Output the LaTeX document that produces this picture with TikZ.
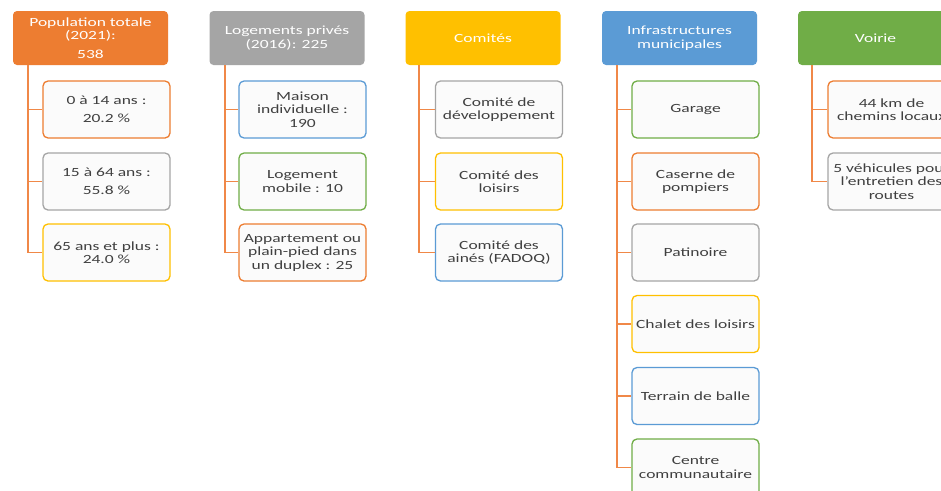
\documentclass[tikz,border=0pt]{standalone}
\usepackage{fontspec}
\setmainfont{Carlito}[FakeStretch=1.4]
\usetikzlibrary{calc}
\definecolor{corange}{HTML}{ED7D31}
\definecolor{cgray}{HTML}{A5A5A5}
\definecolor{cgold}{HTML}{FFC000}
\definecolor{cblue}{HTML}{5B9BD5}
\definecolor{cgreen}{HTML}{70AD47}
\definecolor{cline}{HTML}{F08848}
\definecolor{ctext}{HTML}{404040}
\definecolor{cfill}{HTML}{FBFBFB}
\tikzset{
  head/.style={rounded corners=4pt, minimum width=155pt, minimum height=54pt, inner sep=0pt,
    align=center, text=white, font=\fontsize{12.5}{13.5}\selectfont},
  child/.style={rounded corners=5pt, draw=#1, line width=1.3pt, fill=cfill, minimum width=127pt,
    minimum height=57pt, inner sep=0pt, align=center, text=ctext, font=\fontsize{12.5}{13.5}\selectfont},
  conn/.style={draw=cline, line width=1.8pt}
}
\begin{document}
\begin{tikzpicture}[x=1pt,y=-1pt]
\useasboundingbox (0,0) rectangle (941,490);
\clip (0,0) rectangle (941,490);
\fill[white] (0,0) rectangle (941,490);
% headers
\node[head, fill=corange] (pop) at (90.5,38) {Population totale\\(2021):\\[5pt]538};
\node[head, fill=cgray] (log) at (287,38) {Logements privés\\(2016): 225};
\node[head, fill=cgold] (com) at (483,38) {Comités};
\node[head, fill=cblue] (inf) at (679.5,38) {Infrastructures\\municipales};
\node[head, fill=cgreen] (voi) at (875.5,38) {Voirie};
% rows
\def\ya{109.5}\def\yb{181.5}\def\yc{252.5}\def\yd{324}\def\ye{396}\def\yf{467.5}
% population
\node[child=corange] (p1) at (106.5,\ya) {0 à 14 ans :\\[4pt]20.2 \%};
\node[child=cgray] (p2) at (106.5,\yb) {15 à 64 ans :\\[4pt]55.8 \%};
\node[child=cgold] (p3) at (106.5,\yc) {65 ans et plus :\\24.0 \%};
% logements
\node[child=cblue] (l1) at (302.5,\ya) {Maison\\individuelle :\\190};
\node[child=cgreen] (l2) at (302.5,\yb) {Logement\\mobile : 10};
\node[child=corange] (l3) at (302.5,\yc) {Appartement ou\\plain-pied dans\\un duplex : 25};
% comites
\node[child=cgray] (c1) at (499,\ya) {Comité de\\développement};
\node[child=cgold] (c2) at (499,\yb) {Comité des\\loisirs};
\node[child=cblue] (c3) at (499,\yc) {Comité des\\ainés (FADOQ)};
% infrastructures
\node[child=cgreen] (i1) at (695.5,\ya) {Garage};
\node[child=corange] (i2) at (695.5,\yb) {Caserne de\\pompiers};
\node[child=cgray] (i3) at (695.5,\yc) {Patinoire};
\node[child=cgold] (i4) at (695.5,\yd) {Chalet des loisirs};
\node[child=cblue] (i5) at (695.5,\ye) {Terrain de balle};
\node[child=cgreen] (i6) at (695.5,\yf) {Centre\\communautaire};
% voirie
\node[child=corange] (v1) at (891.5,\ya) {44 km de\\chemins locaux};
\node[child=cgray] (v2) at (891.5,\yb) {5 véhicules pour\\l'entretien des\\routes};
% connectors
\coordinate (popL) at ($(pop.south west)+(15,0)$);
\coordinate (logL) at ($(log.south west)+(16,0)$);
\coordinate (comL) at ($(com.south west)+(14,0)$);
\coordinate (infL) at ($(inf.south west)+(15,0)$);
\coordinate (voiL) at ($(voi.south west)+(14,0)$);
\draw[conn] (popL) |- (p3.west);
\draw[conn] (popL |- p1.west) -- (p1.west);
\draw[conn] (popL |- p2.west) -- (p2.west);
\draw[conn] (logL) |- (l3.west);
\draw[conn] (logL |- l1.west) -- (l1.west);
\draw[conn] (logL |- l2.west) -- (l2.west);
\draw[conn] (comL) |- (c3.west);
\draw[conn] (comL |- c1.west) -- (c1.west);
\draw[conn] (comL |- c2.west) -- (c2.west);
\draw[conn] (infL) |- (i6.west);
\draw[conn] (infL |- i1.west) -- (i1.west);
\draw[conn] (infL |- i2.west) -- (i2.west);
\draw[conn] (infL |- i3.west) -- (i3.west);
\draw[conn] (infL |- i4.west) -- (i4.west);
\draw[conn] (infL |- i5.west) -- (i5.west);
\draw[conn] (voiL) |- (v2.west);
\draw[conn] (voiL |- v1.west) -- (v1.west);
\end{tikzpicture}
\end{document}
